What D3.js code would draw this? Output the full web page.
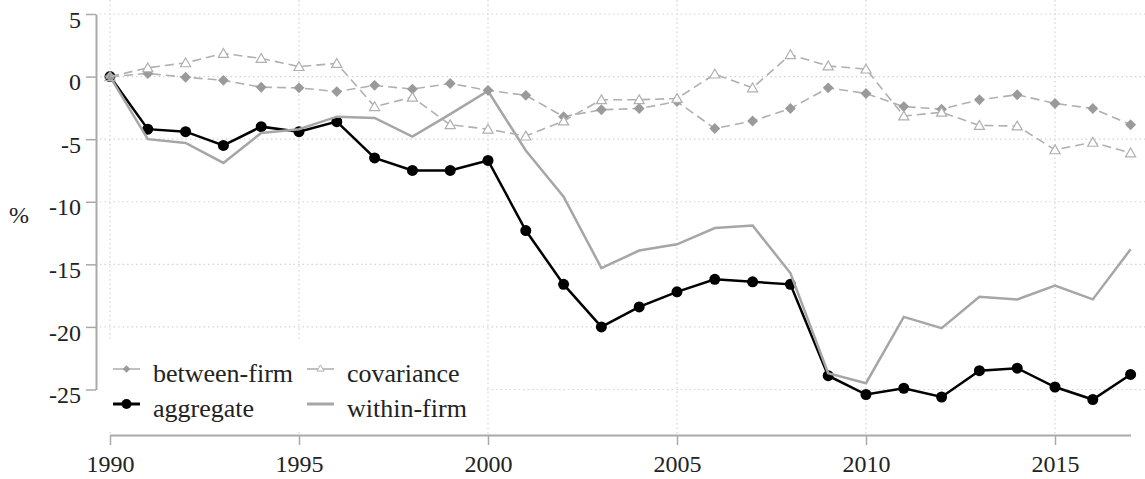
<!DOCTYPE html>
<html>
<head>
<meta charset="utf-8">
<script src="https://cdn.jsdelivr.net/npm/d3@7"></script>
<style>
  body { margin: 0; background: #fff; }
  svg { display: block; font-family: "Liberation Serif", "DejaVu Serif", serif; }
</style>
</head>
<body>
<div id="main"></div>
<script>
const ctx = {
    w: 1145,
    h: 479,
    GRID: "#d4d4d4",
    AXIS: "#a9a9a9",
    DASH: "#b0b0b0",
    WITHIN: "#a6a6a6",
    FONT: "'Liberation Serif', 'DejaVu Serif', serif",
};

// data (% change since 1990)
const YEARS = d3.range(1990, 2018);
const AGGREGATE = [0, -4.2, -4.4, -5.5, -4.0, -4.4, -3.6, -6.5, -7.5, -7.5, -6.7, -12.3, -16.6, -20.0, -18.4, -17.2, -16.2, -16.4, -16.6, -23.9, -25.4, -24.9, -25.6, -23.5, -23.3, -24.8, -25.8, -23.8];
const WITHIN_FIRM = [0, -5.0, -5.3, -6.9, -4.5, -4.2, -3.2, -3.3, -4.8, -3.0, -1.15, -5.9, -9.6, -15.3, -13.9, -13.4, -12.1, -11.9, -15.7, -23.7, -24.5, -19.2, -20.1, -17.6, -17.8, -16.7, -17.8, -13.8];
const BETWEEN_FIRM = [0, 0.25, -0.05, -0.3, -0.85, -0.9, -1.2, -0.7, -1.0, -0.55, -1.1, -1.5, -3.2, -2.65, -2.55, -2.0, -4.15, -3.55, -2.55, -0.9, -1.35, -2.4, -2.6, -1.85, -1.45, -2.15, -2.55, -3.85];
const COVARIANCE = [0, 0.7, 1.1, 1.85, 1.45, 0.8, 1.05, -2.4, -1.65, -3.85, -4.2, -4.75, -3.55, -1.85, -1.85, -1.75, 0.2, -0.9, 1.75, 0.85, 0.6, -3.15, -2.85, -3.9, -3.95, -5.85, -5.25, -6.1];
const Y_TICKS = [5, 0, -5, -10, -15, -20, -25];
const X_TICKS = [1990, 1995, 2000, 2005, 2010, 2015];
const LEGEND = ["between-firm", "covariance", "aggregate", "within-firm"];

function createViz() {
    let svgEl = d3.select("#main").append("svg")
        .attr("width", ctx.w)
        .attr("height", ctx.h);

    let x = d3.scaleLinear().domain([1990, 2017]).range([110, 1130.6]);
    let y = d3.scaleLinear().domain([-25, 5]).range([389.5, 14]);

    // dotted grid
    let grid = svgEl.append("g").attr("stroke", ctx.GRID).attr("stroke-width", 1.2)
        .attr("stroke-dasharray", "1.5,3");
    grid.selectAll("line.h").data(Y_TICKS).enter().append("line")
        .attr("x1", 100).attr("x2", ctx.w)
        .attr("y1", d => y(d)).attr("y2", d => y(d));
    grid.selectAll("line.v").data(X_TICKS).enter().append("line")
        .attr("x1", d => x(d)).attr("x2", d => x(d))
        .attr("y1", 0).attr("y2", 435);

    // axes (plain hyphen for negatives, as in the original)
    let yAxis = svgEl.append("g")
        .attr("transform", "translate(96,0)")
        .call(d3.axisLeft(y).tickValues(Y_TICKS).tickFormat(d => String(d))
            .tickSize(10).tickSizeOuter(0).tickPadding(5));
    let xAxis = svgEl.append("g")
        .attr("transform", "translate(0,435)")
        .call(d3.axisBottom(x).tickValues(X_TICKS).tickFormat(d => String(d))
            .tickSize(10).tickSizeOuter(0).tickPadding(10));
    [yAxis, xAxis].forEach(function (a) {
        a.attr("font-family", ctx.FONT).attr("font-size", 24);
        a.select(".domain").attr("stroke", ctx.AXIS).attr("stroke-width", 2);
        a.selectAll(".tick line").attr("stroke", ctx.AXIS).attr("stroke-width", 1.5);
        a.selectAll("text").attr("fill", "#222");
    });
    yAxis.selectAll("text").attr("dy", "0.55em");
    svgEl.append("text").attr("x", 19).attr("y", 223)
        .attr("text-anchor", "middle").attr("font-size", 24).attr("fill", "#222")
        .attr("font-family", ctx.FONT)
        .text("%");

    let line = d3.line().x((d, i) => x(YEARS[i])).y(d => y(d));
    let diamond = d3.symbol().type(d3.symbolDiamond2).size(75);
    let triangle = d3.symbol().type(d3.symbolTriangle).size(45);

    // aggregate
    svgEl.append("path").datum(AGGREGATE).attr("d", line)
        .attr("fill", "none").attr("stroke", "#000").attr("stroke-width", 2.5);
    svgEl.append("g").selectAll("circle").data(AGGREGATE).enter().append("circle")
        .attr("cx", (d, i) => x(YEARS[i])).attr("cy", d => y(d)).attr("r", 5.5)
        .attr("fill", "#000");

    // within-firm
    svgEl.append("path").datum(WITHIN_FIRM).attr("d", line)
        .attr("fill", "none").attr("stroke", ctx.WITHIN).attr("stroke-width", 2.5);

    // between-firm
    svgEl.append("path").datum(BETWEEN_FIRM).attr("d", line)
        .attr("fill", "none").attr("stroke", ctx.DASH).attr("stroke-width", 1.6)
        .attr("stroke-dasharray", "9,5");
    svgEl.append("g").selectAll("path").data(BETWEEN_FIRM).enter().append("path")
        .attr("d", diamond)
        .attr("transform", (d, i) => `translate(${x(YEARS[i])},${y(d)})`)
        .attr("fill", "#9a9a9a");

    // covariance
    svgEl.append("path").datum(COVARIANCE).attr("d", line)
        .attr("fill", "none").attr("stroke", ctx.DASH).attr("stroke-width", 1.6)
        .attr("stroke-dasharray", "9,5");
    svgEl.append("g").selectAll("path").data(COVARIANCE).enter().append("path")
        .attr("d", triangle)
        .attr("transform", (d, i) => `translate(${x(YEARS[i])},${y(d) + 1})`)
        .attr("fill", (d, i) => i == 0 ? "none" : "#fff")
        .attr("stroke", ctx.DASH).attr("stroke-width", 1.2);

    // legend
    let legendG = svgEl.append("g").attr("font-family", ctx.FONT);
    legendG.append("rect").attr("x", 100).attr("y", 341).attr("width", 386).attr("height", 89)
        .attr("fill", "#fff");
    let items = [
        { x: 113, y: 369, stroke: ctx.DASH, w: 1.6, marker: "diamond" },
        { x: 307, y: 369, stroke: ctx.DASH, w: 1.6, marker: "triangle" },
        { x: 113, y: 404, stroke: "#000", w: 3, marker: "circle" },
        { x: 307, y: 404, stroke: ctx.WITHIN, w: 3, marker: null },
    ];
    items.forEach(function (it, i) {
        legendG.append("line").attr("x1", it.x).attr("x2", it.x + 27)
            .attr("y1", it.y).attr("y2", it.y)
            .attr("stroke", it.stroke).attr("stroke-width", it.w);
        if (it.marker == "diamond") {
            legendG.append("path").attr("d", d3.symbol().type(d3.symbolDiamond2).size(35))
                .attr("transform", `translate(${it.x + 13.5},${it.y})`).attr("fill", "#9a9a9a");
        } else if (it.marker == "triangle") {
            legendG.append("path").attr("d", d3.symbol().type(d3.symbolTriangle).size(22))
                .attr("transform", `translate(${it.x + 13.5},${it.y})`)
                .attr("fill", "#fff").attr("stroke", ctx.DASH).attr("stroke-width", 1);
        } else if (it.marker == "circle") {
            legendG.append("circle").attr("cx", it.x + 13.5).attr("cy", it.y).attr("r", 5)
                .attr("fill", "#000");
        }
        legendG.append("text").attr("x", it.x + 40).attr("y", it.y + 12.5)
            .attr("font-size", 26).attr("fill", "#222")
            .text(LEGEND[i]);
    });
}

createViz();
</script>
</body>
</html>
